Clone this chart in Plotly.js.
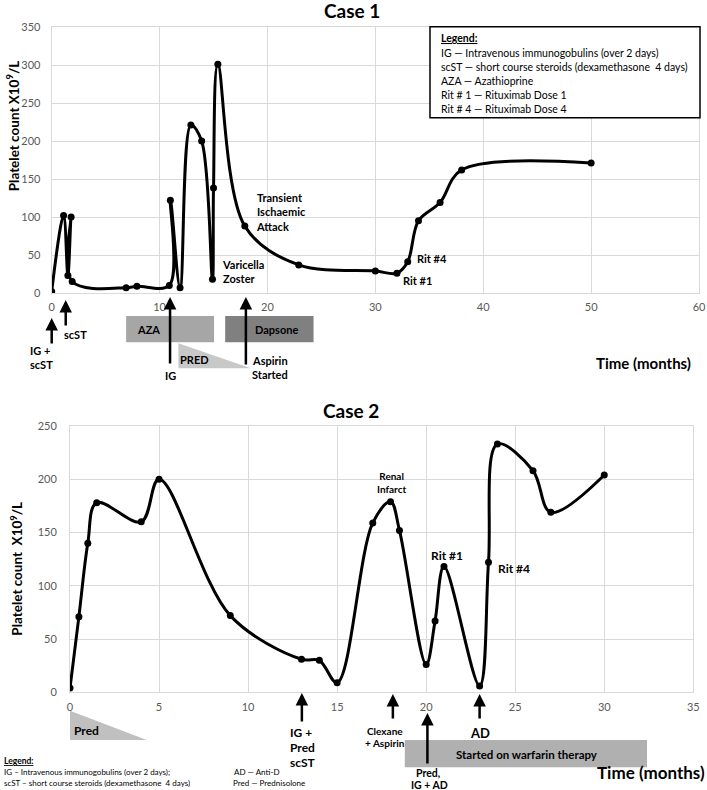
<!DOCTYPE html>
<html><head><meta charset="utf-8">
<script src="https://cdn.plot.ly/plotly-3.0.1.min.js"></script>
<style>html,body{margin:0;padding:0;background:#fff}#chart{width:707px;height:790px}</style>
</head><body><div id="chart"></div>
<script>
// ---------- DATA ----------
const case1Months    = [0, 1.1, 1.5, 1.8, 1.9, 6.9, 7.9, 10.9, 11.0, 11.9, 12.9, 13.9, 14.9, 15.0, 15.4, 17.9, 22.9, 30, 32, 33, 34, 36, 38, 50];
const case1Platelets = [2, 102, 23, 100, 15, 7, 9, 10, 122, 7, 221, 200, 18, 138, 301, 88, 37, 29, 26, 41, 95, 119, 162, 171];
const case2Months    = [0, 0.5, 1, 1.5, 4, 5, 9, 13, 14, 15, 17, 18, 18.5, 20, 20.5, 21, 23, 23.5, 24, 26, 27, 30];
const case2Platelets = [4, 71, 140, 178, 160, 200, 72, 31, 30, 9, 159, 179, 152, 26, 67, 118, 6, 122, 233, 208, 169, 204];
const case1XTicks = [0, 10, 20, 30, 40, 50, 60];
const case1YTicks = [0, 50, 100, 150, 200, 250, 300, 350];
const case2XTicks = [0, 5, 10, 15, 20, 25, 30, 35];
const case2YTicks = [0, 50, 100, 150, 200, 250];
const case1LegendLines = [
  'IG — Intravenous immunogobulins (over 2 days)',
  'scST — short course steroids (dexamethasone  4 days)',
  'AZA — Azathioprine',
  'Rit # 1 — Rituximab Dose 1',
  'Rit # 4 — Rituximab Dose 4'
];
// treatments (months)
const case1AZA = [6.9, 15.05];
const case1Dapsone = [16.08, 24.27];
const case1Pred = [11.74, 18.46];
const case1Arrows = [0, 1.3, 10.97, 18.0];
const case2Pred = [0, 4.31];
const case2Warfarin = [18.8, 32.4];
const case2Arrows = [13.02, 18.13, 23.0, 20.07];

// ---------- LAYOUT HELPERS ----------
const W = 707, H = 790;
const F = 'Lato, "Open Sans", sans-serif';
const px = x => x / W, py = y => 1 - y / H;

function txt(x, y, text, size, anchor, bold, color) {
  return {xref:'paper', yref:'paper', x:px(x), y:py(y), text: bold === false ? text : '<b>'+text+'</b>',
    showarrow:false, xanchor:anchor||'left', yanchor:'middle', borderpad:0, align:anchor||'left',
    font:{family:F, size:size, color:color||'#000'}};
}
function tdat(xr, yr, x, y, text, size, anchor) {
  return {xref:xr, yref:yr, x:x, y:y, text:'<b>'+text+'</b>', showarrow:false, align:anchor||'left',
    xanchor:anchor||'left', yanchor:'middle', borderpad:0, font:{family:F, size:size, color:'#000'}};
}
function arrow(xr, x, tipY, tailY) {
  return {xref:xr, yref:'paper', x:x, y:py(tipY), ax:0, ay:tailY - tipY, text:'',
    showarrow:true, arrowhead:2, arrowsize:1, arrowwidth:2.5, arrowcolor:'#000', standoff:0, startstandoff:0};
}
function rect(xr, x0, x1, yTop, yBot, fill) {
  return {type:'rect', xref:xr, yref:'paper', x0:x0, x1:x1, y0:py(yBot), y1:py(yTop),
    fillcolor:fill, line:{width:0}, layer:'above'};
}
function tri(xr, x0, x1, yTop, yBot, fill) {
  return {type:'path', xref:xr, yref:'paper',
    path:`M ${x0},${py(yTop)} L ${x0},${py(yBot)} L ${x1},${py(yBot)} Z`,
    fillcolor:fill, line:{width:0}, layer:'above'};
}

const axBase = {showgrid:true, gridcolor:'#d9d9d9', gridwidth:1, showline:true, linecolor:'#d9d9d9',
  mirror:true, zeroline:false, ticks:'', tickfont:{family:F, size:11, color:'#595959'}, fixedrange:true};

const traces = [
  {x:case1Months, y:case1Platelets, xaxis:'x', yaxis:'y', mode:'lines+markers',
   line:{shape:'spline', smoothing:1, color:'#000', width:3}, marker:{size:7, color:'#000'}},
  {x:case2Months, y:case2Platelets, xaxis:'x2', yaxis:'y2', mode:'lines+markers',
   line:{shape:'spline', smoothing:1, color:'#000', width:3}, marker:{size:7, color:'#000'}}
];

const annotations = [
  // titles
  txt(352, 11, 'Case 1', 19, 'center'),
  txt(351, 410, 'Case 2', 19, 'center'),
  // y titles
  Object.assign(txt(13.3, 126, 'Platelet count X10<sup>9</sup>/L', 13.5, 'center'), {textangle:-90}),
  Object.assign(txt(16.7, 569, 'Platelet count  X10<sup>9</sup>/L', 13.5, 'center'), {textangle:-90}),
  // case 1 in-plot labels
  tdat('x', 'y', 18.86, 107, 'Transient<br>Ischaemic<br>Attack', 11),
  tdat('x', 'y', 15.68, 28, 'Varicella<br>Zoster', 11),
  tdat('x', 'y', 33.8, 46, 'Rit #4', 11),
  tdat('x', 'y', 32.47, 16, 'Rit #1', 11),
  // case 1 legend box text
  txt(440, 38.3, '<u>Legend:</u>', 10.5, 'left'),
  ...case1LegendLines.map((s, i) => txt(440, 52.7 + 14 * i, s, 10.5, 'left', false)),
  // case 1 arrows
  arrow('x', case1Arrows[0], 318, 345),
  arrow('x', case1Arrows[1], 300, 327),
  arrow('x', case1Arrows[2], 297, 365),
  arrow('x', case1Arrows[3], 297, 366),
  // case 1 bottom texts
  txt(29, 351, 'IG +', 11), txt(29, 364, 'scST', 11),
  txt(63.3, 334, 'scST', 11),
  txt(148, 329.3, 'AZA', 11, 'center'),
  txt(276, 329.3, 'Dapsone', 11, 'center'),
  txt(194, 359.3, 'PRED', 11, 'center'),
  txt(170.3, 375, 'IG', 11, 'center'),
  txt(250.7, 360.7, 'Aspirin', 11), txt(250.7, 374.3, 'Started', 11),
  txt(692, 363.3, 'Time (months)', 15, 'right'),
  // case 2 in-plot labels
  tdat('x2', 'y2', 18.07, 197, 'Renal<br>Infarct', 10, 'center'),
  tdat('x2', 'y2', 21.16, 128, 'Rit #1', 12, 'center'),
  tdat('x2', 'y2', 24.0, 116.4, 'Rit #4', 12, 'left'),
  // case 2 arrows
  arrow('x2', case2Arrows[0], 693, 723),
  arrow('x2', case2Arrows[1], 694, 720),
  arrow('x2', case2Arrows[2], 694, 720),
  arrow('x2', case2Arrows[3], 713, 765),
  // case 2 bottom texts
  txt(73, 730, 'Pred', 12),
  txt(289, 732.7, 'IG +', 12), txt(289, 747.3, 'Pred', 12), txt(289, 762, 'scST', 12),
  txt(385, 730.7, 'Clexane', 10, 'center'), txt(385, 743.3, '+ Aspirin', 10, 'center'),
  txt(479.5, 732.7, 'AD', 13, 'center'),
  txt(526.7, 754.5, 'Started on warfarin therapy', 11.5, 'center'),
  txt(428, 773, 'Pred,', 10.5, 'center'), txt(429, 784.5, 'IG + AD', 10.5, 'center'),
  txt(706, 772.3, 'Time (months)', 17, 'right'),
  // case 2 legend
  txt(3, 760.7, '<u>Legend:</u>', 8.5),
  txt(3, 771.7, 'IG – Intravenous immunogobulins (over 2 days);', 8, 'left', false),
  txt(233, 771.7, 'AD — Anti-D', 8, 'left', false),
  txt(3, 782.7, 'scST – short course steroids (dexamethasone  4 days)', 8, 'left', false),
  txt(232, 782.7, 'Pred — Prednisolone', 8, 'left', false)
];

const shapes = [
  {type:'rect', xref:'paper', yref:'paper', x0:px(430), x1:px(700), y0:py(117.7), y1:py(26.7),
   fillcolor:'#fff', line:{color:'#000', width:1.5}, layer:'above'},
  rect('x', case1AZA[0], case1AZA[1], 316, 342.3, '#a6a6a6'),
  rect('x', case1Dapsone[0], case1Dapsone[1], 316, 342.3, '#808080'),
  tri('x', case1Pred[0], case1Pred[1], 343.3, 368.3, '#c8c8c8'),
  tri('x2', case2Pred[0], case2Pred[1], 710.7, 740, '#c0c0c0'),
  rect('x2', case2Warfarin[0], case2Warfarin[1], 740, 767.3, '#b0b0b0')
];

const layout = {
  width:W, height:H, margin:{l:0, r:0, t:0, b:0}, paper_bgcolor:'#fff', plot_bgcolor:'#fff',
  showlegend:false, font:{family:F},
  xaxis: Object.assign({}, axBase, {domain:[51.7/W, 699/W], range:[0,60], tickvals:case1XTicks, anchor:'y', ticklabelstandoff:4}),
  yaxis: Object.assign({}, axBase, {domain:[py(293), py(27)], range:[0,350], tickvals:case1YTicks, anchor:'x', ticklabelstandoff:8}),
  xaxis2: Object.assign({}, axBase, {domain:[70/W, 693.3/W], range:[0,35], tickvals:case2XTicks, anchor:'y2', ticklabelstandoff:4}),
  yaxis2: Object.assign({}, axBase, {domain:[py(692.3), py(426)], range:[0,250], tickvals:case2YTicks, anchor:'x2', ticklabelstandoff:10}),
  annotations: annotations, shapes: shapes
};
Plotly.newPlot('chart', traces, layout, {staticPlot:true});
</script></body></html>
